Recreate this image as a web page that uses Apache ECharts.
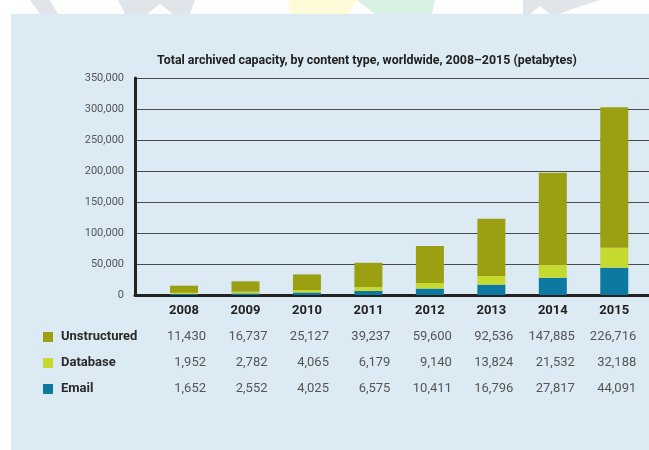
<!DOCTYPE html>
<html>
<head>
<meta charset="utf-8">
<style>html,body{margin:0;padding:0;background:#fff;}#c{width:649px;height:450px;}</style>
<script src="https://cdn.jsdelivr.net/npm/echarts@6/dist/echarts.min.js"></script>
</head>
<body>
<div id="c"></div>
<script>
const years = ['2008','2009','2010','2011','2012','2013','2014','2015'];
const unstructured = [11430, 16737, 25127, 39237, 59600, 92536, 147885, 226716];
const database = [1952, 2782, 4065, 6179, 9140, 13824, 21532, 32188];
const email = [1652, 2552, 4025, 6575, 10411, 16796, 27817, 44091];
const yTicks = [0, 50000, 100000, 150000, 200000, 250000, 300000, 350000];

const colors = {Unstructured: '#9ba013', Database: '#c6d92f', Email: '#0c79a1'};
const FONT = 'Roboto';
const fmt = v => v.toLocaleString('en-US');
const yMin = yTicks[0], yMax = yTicks[yTicks.length - 1], yStep = yTicks[1] - yTicks[0];

const chart = echarts.init(document.getElementById('c'), null, {renderer: 'canvas'});

const decor = [
  {type: 'rect', shape: {x: 11, y: 14, width: 638, height: 436}, style: {fill: '#dceaf4'}, z: -10},
  {type: 'polygon', shape: {points: [[30,0],[50,0],[58,14],[40,14]]}, style: {fill: '#dfe5e8'}, z: -10},
  {type: 'polygon', shape: {points: [[118,0],[195,0],[190,14],[173,14],[160,4],[147,14],[125,14]]}, style: {fill: '#dfe5e8'}, z: -10},
  {type: 'polygon', shape: {points: [[287,0],[357,0],[348,14],[292,14]]}, style: {fill: '#fffbd8'}, z: -10},
  {type: 'polygon', shape: {points: [[357,0],[435,0],[432,14],[375,14]]}, style: {fill: '#d9f1e4'}, z: -10},
  {type: 'polygon', shape: {points: [[523,0],[600,0],[575,8],[560,14],[550,14],[540,6],[530,14],[523,14]]}, style: {fill: '#dfe5e8'}, z: -10}
];

const option = {
  animation: false,
  backgroundColor: '#ffffff',
  title: {
    text: 'Total archived capacity, by content type, worldwide, 2008\u20132015 (petabytes)',
    left: 362, top: 50, textAlign: 'center',
    textStyle: {fontFamily: FONT, fontSize: 12.4, fontWeight: 'bold', color: '#222'}
  },
  grid: [
    {left: 153.3, right: 4, top: 78, bottom: 155, containLabel: false},
    {left: 135, right: 0, top: 78, bottom: 155, containLabel: false}
  ],
  xAxis: [
    {type: 'category', gridIndex: 0, data: years,
     axisLine: {show: false}, axisTick: {show: false}, axisLabel: {show: false}, splitLine: {show: false}},
    {type: 'value', gridIndex: 1, min: 0, max: 1,
     axisLine: {show: true, onZero: false, lineStyle: {color: '#222', width: 3}},
     axisTick: {show: false}, axisLabel: {show: false}, splitLine: {show: false}}
  ],
  yAxis: [
    {type: 'value', gridIndex: 0, min: yMin, max: yMax, interval: yStep, show: false, splitLine: {show: false}},
    {type: 'value', gridIndex: 1, min: yMin, max: yMax, interval: yStep,
     axisLine: {show: true, onZero: false, lineStyle: {color: '#222', width: 3}},
     axisTick: {show: false},
     axisLabel: {margin: 11, fontFamily: FONT, fontSize: 11, color: '#555', formatter: v => fmt(v)},
     splitLine: {show: true, lineStyle: {color: '#4a4a4a', width: 1}}}
  ],
  series: [
    {name: 'Email', type: 'bar', stack: 'a', barWidth: 28, xAxisIndex: 0, yAxisIndex: 0, data: email, itemStyle: {color: colors.Email}},
    {name: 'Database', type: 'bar', stack: 'a', barWidth: 28, xAxisIndex: 0, yAxisIndex: 0, data: database, itemStyle: {color: colors.Database}},
    {name: 'Unstructured', type: 'bar', stack: 'a', barWidth: 28, xAxisIndex: 0, yAxisIndex: 0, data: unstructured, itemStyle: {color: colors.Unstructured}}
  ],
  graphic: decor
};
chart.setOption(option);

// Data table below the chart, aligned to bar columns through the category axis
const rows = [
  {name: 'Unstructured', values: unstructured, y: 337},
  {name: 'Database', values: database, y: 363},
  {name: 'Email', values: email, y: 389}
];
const table = [];
years.forEach((yr, i) => {
  const cx = chart.convertToPixel({xAxisIndex: 0}, yr);
  table.push({type: 'text', x: cx, y: 311, style: {text: yr, textAlign: 'center', textVerticalAlign: 'middle', font: 'bold 13px ' + FONT, fill: '#222'}});
  rows.forEach(r => {
    table.push({type: 'text', x: cx + 22, y: r.y, style: {text: fmt(r.values[i]), textAlign: 'right', textVerticalAlign: 'middle', font: '13px ' + FONT, fill: '#555'}});
  });
});
rows.forEach(r => {
  table.push({type: 'rect', shape: {x: 43, y: r.y - 5, width: 10, height: 10}, style: {fill: colors[r.name]}});
  table.push({type: 'text', x: 61, y: r.y, style: {text: r.name, textAlign: 'left', textVerticalAlign: 'middle', font: 'bold 13px ' + FONT, fill: '#2a2a2a'}});
});
chart.setOption({graphic: decor.concat(table)});
</script>
</body>
</html>
